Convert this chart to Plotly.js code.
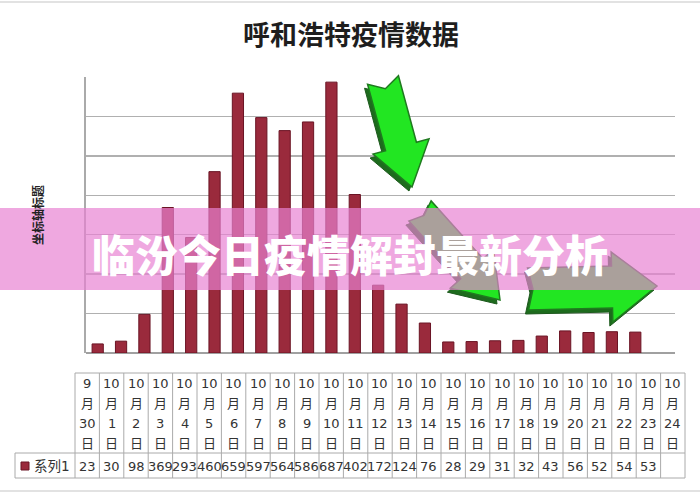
<!DOCTYPE html>
<html>
<head>
<meta charset="utf-8">
<script src="https://cdn.plot.ly/plotly-3.0.1.min.js"></script>
<style>html,body{margin:0;padding:0;background:#fff;}#chart{width:700px;height:500px;}</style>
</head>
<body>
<div id="chart"></div>
<script>
// ---- data ----
const categories = ['9月30日','10月1日','10月2日','10月3日','10月4日','10月5日','10月6日','10月7日','10月8日','10月9日','10月10日','10月11日','10月12日','10月13日','10月14日','10月15日','10月16日','10月17日','10月18日','10月19日','10月20日','10月21日','10月22日','10月23日','10月24日'];
const values = [23,30,98,369,293,460,659,597,564,586,687,402,172,124,76,28,29,31,32,43,56,52,54,53,null];
const seriesName = '系列1';
const chartTitle = '呼和浩特疫情数据';
const yTitle = '坐标轴标题';
const bannerText = '临汾今日疫情解封最新分析';

// ---- helpers (pixel -> paper) ----
const W = 700, H = 500;
const px = x => x / W;
const py = y => 1 - y / H;

function arrowPts(x0, y0, x1, y1, sw, hw, hl, notch) {
  const dx = x1 - x0, dy = y1 - y0, L = Math.hypot(dx, dy);
  const ux = dx / L, uy = dy / L, nx = -uy, ny = ux;
  const bx = x1 - ux * hl, by = y1 - uy * hl;
  return [
    [x0 + nx * sw / 2, y0 + ny * sw / 2],
    [bx + nx * sw / 2, by + ny * sw / 2],
    [bx + nx * hw / 2, by + ny * hw / 2],
    [x1, y1],
    [bx - nx * hw / 2, by - ny * hw / 2],
    [bx - nx * sw / 2, by - ny * sw / 2],
    [x0 - nx * sw / 2, y0 - ny * sw / 2],
    [x0 + ux * notch, y0 + uy * notch]
  ];
}
function toPath(pts, ox, oy) {
  return pts.map((p, i) => (i ? 'L' : 'M') + px(p[0] + ox).toFixed(4) + ',' + py(p[1] + oy).toFixed(4)).join(' ') + ' Z';
}

const shapes = [];
const annotations = [];

// ---- data table (built from the arrays) ----
const tblLeft = 15, colStart = 75, colW = 24.4, hdrTop = 373, hdrBot = 453, rowBot = 478;
const tblRight = colStart + colW * categories.length;
const gridLine = {color: '#aaaaaa', width: 1};
const hline = (x0, x1, y) => ({type: 'line', xref: 'paper', yref: 'paper', x0: px(x0), x1: px(x1), y0: py(y), y1: py(y), line: gridLine, layer: 'below'});
const vline = (x, y0, y1) => ({type: 'line', xref: 'paper', yref: 'paper', x0: px(x), x1: px(x), y0: py(y0), y1: py(y1), line: gridLine, layer: 'below'});
shapes.push(hline(colStart, tblRight, hdrTop));
shapes.push(hline(tblLeft, tblRight, hdrBot));
shapes.push(hline(tblLeft, tblRight, rowBot));
shapes.push(vline(tblLeft, hdrBot, rowBot));
for (let i = 0; i <= categories.length; i++) shapes.push(vline(colStart + colW * i, hdrTop, rowBot));

const tFont = {family: 'DejaVu Sans, Noto Sans CJK SC', size: 13, color: '#333'};
categories.forEach((c, i) => {
  const m = c.match(/(\d+)月(\d+)日/);
  const parts = [m[1], '月', m[2], '日'];
  const cx = colStart + colW * (i + 0.5);
  parts.forEach((t, k) => {
    annotations.push({text: t, xref: 'paper', yref: 'paper', x: px(cx), y: py(383 + 20 * k),
      xanchor: 'center', yanchor: 'middle', showarrow: false, font: tFont});
  });
  const v = values[i];
  annotations.push({text: v == null ? '' : String(v), xref: 'paper', yref: 'paper', x: px(cx), y: py(466),
    xanchor: 'center', yanchor: 'middle', showarrow: false, font: tFont});
});
// legend key in the table
shapes.push({type: 'rect', xref: 'paper', yref: 'paper', x0: px(21), x1: px(29), y0: py(470), y1: py(462),
  fillcolor: '#9a2a3c', line: {color: '#6a1424', width: 1}, layer: 'below'});
annotations.push({text: seriesName, xref: 'paper', yref: 'paper', x: px(32), y: py(466), xanchor: 'left', yanchor: 'middle',
  showarrow: false, font: {family: 'DejaVu Sans, Noto Sans CJK SC', size: 13.5, color: '#333'}});

// ---- decorative arrows and banner ----
const arrows = [
  arrowPts(383, 80, 412, 187, 32, 58, 42, 9),
  arrowPts(420, 211, 500, 300, 30, 58, 42, 6),
  arrowPts(528, 289, 657, 286, 42, 70, 45, 5)
];
arrows.forEach(a => {
  shapes.push({type: 'path', xref: 'paper', yref: 'paper', path: toPath(a, -3, 4), fillcolor: '#1d6b1d', line: {color: '#1d5a1d', width: 1}, layer: 'above'});
  shapes.push({type: 'path', xref: 'paper', yref: 'paper', path: toPath(a, 0, 0), fillcolor: '#22e622', line: {color: '#1f7a1f', width: 1.5}, layer: 'above'});
});
shapes.push({type: 'rect', xref: 'paper', yref: 'paper', x0: 0, x1: 1, y0: py(290), y1: py(208),
  fillcolor: '#e881d2', opacity: 0.69, line: {width: 0}, layer: 'above'});
shapes.push({type: 'line', xref: 'paper', yref: 'paper', x0: 0, x1: 1, y0: py(491), y1: py(491), line: {color: '#e2e2e2', width: 2}, layer: 'below'});
shapes.push({type: 'line', xref: 'paper', yref: 'paper', x0: 0, x1: 1, y0: py(2), y1: py(2), line: {color: '#e2e2e2', width: 2}, layer: 'below'});

annotations.push({text: bannerText, xref: 'paper', yref: 'paper', x: px(350), y: py(253), xanchor: 'center', yanchor: 'middle',
  showarrow: false, font: {family: 'Noto Sans CJK SC', size: 43, color: '#ffffff', weight: 900}});

const bar = {
  type: 'bar', x: categories, y: values, name: seriesName, width: 0.48,
  marker: {color: '#9a2a3c', line: {color: '#6a1424', width: 1}},
  hoverinfo: 'x+y'
};

const layout = {
  width: W, height: H,
  margin: {l: 0, r: 0, t: 0, b: 0},
  paper_bgcolor: 'white', plot_bgcolor: 'white',
  showlegend: false,
  title: {text: chartTitle, x: px(351), xanchor: 'center', y: py(36), yanchor: 'middle', yref: 'container',
    font: {family: 'Noto Sans CJK SC', size: 27, color: '#1e1e1e', weight: 'bold'}},
  xaxis: {domain: [px(86), px(675)], type: 'category', range: [-0.5, 24.7],
    showticklabels: false, showgrid: false, zeroline: false, showline: false, ticks: ''},
  yaxis: {domain: [py(353), py(77)], range: [0, 700], dtick: 100,
    showticklabels: false, ticks: '',
    showgrid: true, gridcolor: '#b0b0b0', gridwidth: 1.5,
    zeroline: true, zerolinecolor: '#a0a0a0', zerolinewidth: 2,
    showline: true, linecolor: '#aaaaaa', linewidth: 2,
    title: {text: yTitle, standoff: 38, font: {family: 'Noto Sans CJK SC', size: 12, color: '#222', weight: 'bold'}}},
  shapes: shapes,
  annotations: annotations
};

Plotly.newPlot('chart', [bar], layout, {displayModeBar: false, staticPlot: true});
</script>
</body>
</html>
